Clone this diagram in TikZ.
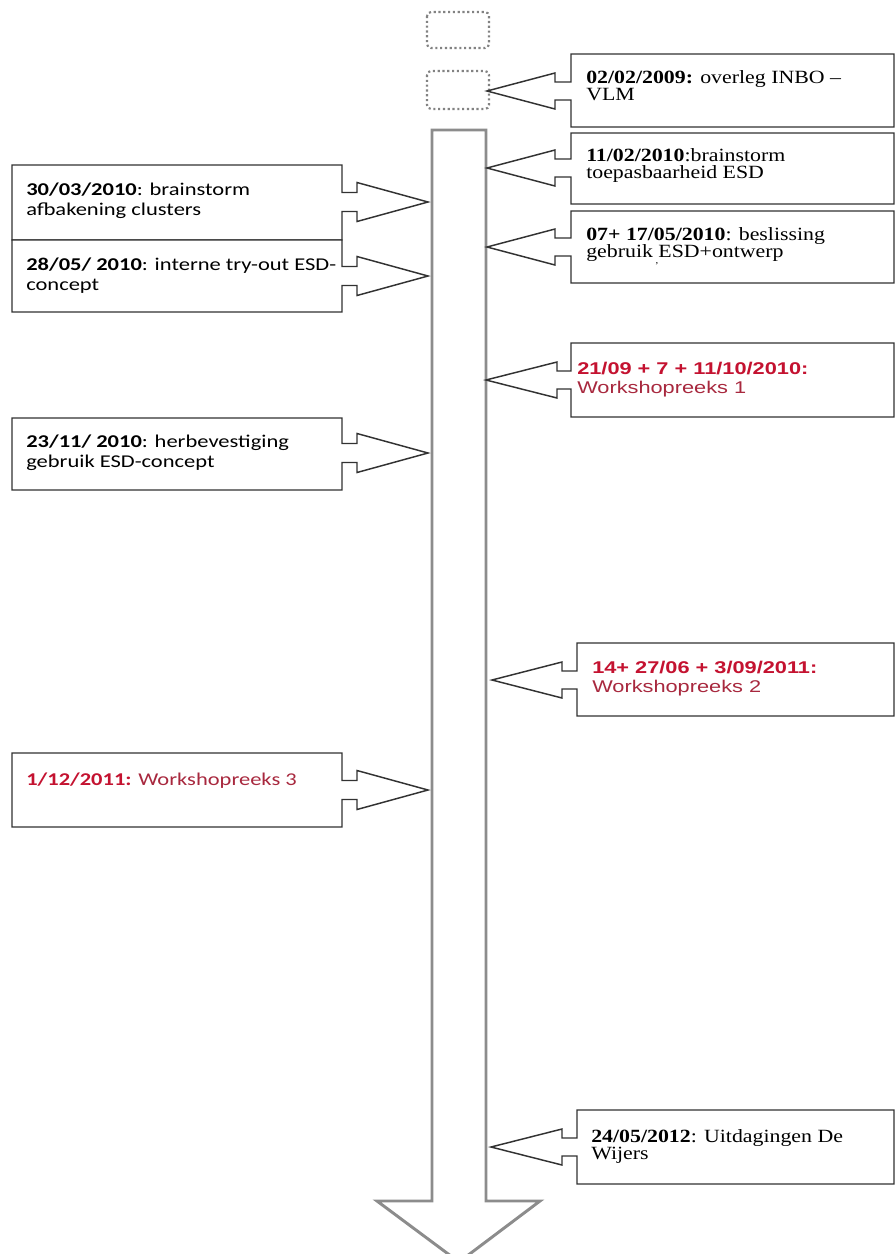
\documentclass[tikz,border=0pt]{standalone}
\usepackage{fontspec}
\setmainfont{Liberation Serif}
\newfontfamily\fTimes[FakeStretch=1.17]{Liberation Serif}
\newfontfamily\fCal[FakeStretch=1.25]{Carlito}
\newfontfamily\fArial[FakeStretch=1.28]{Liberation Sans}
\definecolor{boxgray}{RGB}{50,50,50}
\definecolor{arrgray}{RGB}{140,140,140}
\definecolor{dotgray}{RGB}{130,130,130}
\definecolor{datered}{RGB}{196,18,48}
\definecolor{wsred}{RGB}{168,40,62}
\lineskiplimit=-30pt
% callout pointing left: L, T, B, R, tipx, tipy, headx
\newcommand\calloutLeft[7]{%
  \draw[boxline] (#1,#2) -- (#4,#2) -- (#4,#3) -- (#1,#3) -- (#1,#6+9) -- (#7,#6+9)
    -- (#7,#6+18) -- (#5,#6) -- (#7,#6-18) -- (#7,#6-9) -- (#1,#6-9) -- cycle;}
% callout pointing right: L, T, B, R, tipx, tipy, headx
\newcommand\calloutRight[7]{%
  \draw[boxline] (#1,#2) -- (#4,#2) -- (#4,#6-9.5) -- (#7,#6-9.5) -- (#7,#6-19.5)
    -- (#5,#6) -- (#7,#6+19.5) -- (#7,#6+9.5) -- (#4,#6+9.5) -- (#4,#3) -- (#1,#3) -- cycle;}
\begin{document}
\begin{tikzpicture}[x=0.75pt,y=-0.75pt,
  boxline/.style={draw=boxgray, line width=1.1pt, fill=white, line join=miter},
  arrowline/.style={draw=arrgray, line width=2.2pt, fill=white, line join=miter},
  dotbox/.style={draw=dotgray, dotted, line width=1.6pt, rounded corners=3pt},
  ttxt/.style={anchor=base west, align=left, inner sep=0pt,
    font=\fTimes\fontsize{14}{12.5}\selectfont},
  ctxt/.style={anchor=base west, align=left, inner sep=0pt,
    font=\fCal\fontsize{13.5}{15}\selectfont},
  atxt/.style={anchor=base west, align=left, inner sep=0pt,
    font=\fArial\fontsize{12.75}{14}\selectfont}]
\useasboundingbox (0,0) rectangle (896,1254);
\clip (0,0) rectangle (896,1254);
\fill[white] (0,0) rectangle (896,1254);

% dotted boxes
\draw[dotbox] (427,12) rectangle (489,48);
\draw[dotbox] (427,71) rectangle (489,109);

% main timeline arrow
\draw[arrowline] (432,130) -- (486,130) -- (486,1201) -- (540,1201) -- (459,1262)
  -- (377,1201) -- (432,1201) -- cycle;

% right callouts
\calloutLeft{571}{54}{127}{894}{487}{91}{555}
\calloutLeft{571}{133}{204}{894}{487}{168}{555}
\calloutLeft{571}{211}{283}{894}{487}{247}{555}
\calloutLeft{571}{343}{417}{894}{486}{380}{557}
\calloutLeft{577}{643}{716}{894}{492}{680}{562}
\calloutLeft{577}{1110}{1184}{894}{491}{1147}{562}

% left callouts
\calloutRight{12}{165}{240}{342}{428}{202}{357}
\calloutRight{12}{240}{312}{342}{428}{276}{357}
\calloutRight{12}{418}{490}{342}{428}{453}{357}
\calloutRight{12}{753}{827}{342}{428}{790}{357}

% texts right (anchor = baseline of last line)
\node[ttxt] (t0209) at (586,100) {\textbf{02/02/2009:} overleg INBO –\\VLM};
\node[ttxt] (t1102) at (586,178) {\textbf{11/02/2010}:brainstorm\\toepasbaarheid ESD};
\node[ttxt] (t0705) at (586,257) {\textbf{07+ 17/05/2010}: beslissing\\gebruik \llap{\raisebox{-5pt}{\scriptsize ,}}ESD+ontwerp};
\node[atxt] (tws1) at (577,393) {\textcolor{datered}{\textbf{21/09 + 7 + 11/10/2010:}}\\\textcolor{wsred}{Workshopreeks 1}};
\node[atxt] (tws2) at (592,692) {\textcolor{datered}{\textbf{14+ 27/06 + 3/09/2011:}}\\\textcolor{wsred}{Workshopreeks 2}};
\node[ttxt] (t2405) at (591,1159) {\textbf{24/05/2012}: Uitdagingen De\\Wijers};

% texts left
\node[ctxt] (t3003) at (26,215) {\textbf{30/03/2010}: brainstorm\\afbakening clusters};
\node[ctxt] (t2805) at (26,290) {\textbf{28/05/ 2010}: interne try-out ESD-\\concept};
\node[ctxt] (t2311) at (26,467) {\textbf{23/11/ 2010}: herbevestiging\\gebruik ESD-concept};
\node[ctxt] (tws3) at (26,785) {\textcolor{datered}{\textbf{1/12/2011:}} \textcolor{wsred}{Workshopreeks 3}};
\end{tikzpicture}
\end{document}
